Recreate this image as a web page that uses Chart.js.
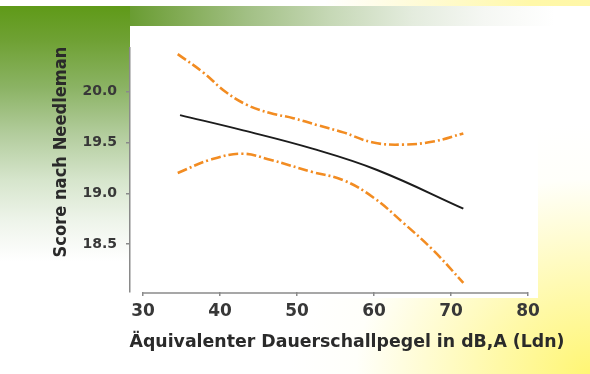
<!DOCTYPE html>
<html>
<head>
<meta charset="utf-8">
<script src="https://cdn.jsdelivr.net/npm/chart.js@4/dist/chart.umd.min.js"></script>
<style>
  html, body { margin: 0; padding: 0; background: #ffffff; }
  #wrap { position: relative; width: 590px; height: 374px; overflow: hidden; background: #ffffff; }
  .layer { position: absolute; }
  #yellowBR { left: 0; top: 0; width: 590px; height: 374px;
    background: radial-gradient(ellipse 300px 250px at 100% 100%, #fff674 0%, #fff9a6 30%, #fffcd2 55%, rgba(255,255,245,0.5) 78%, rgba(255,255,255,0) 100%); }
  #yellowTop { left: 0; top: 0; width: 590px; height: 7px;
    background: linear-gradient(to right, #ffffff 0%, #ffffff 55%, #fffbd4 72%, #fff8a8 90%, #fff7a8 100%); }
  #greenBand { left: 0; top: 6px; width: 590px; height: 20px;
    background: linear-gradient(to right, #5f9818 0%, #63992a 20%, #80aa52 30%, #a2c085 42%, #c6d8b6 56%, #e4ecde 70%, #f5f7f3 82%, #ffffff 94%); }
  #greenCol { left: 0; top: 6px; width: 130px; height: 290px;
    background: linear-gradient(to bottom, #5f9a18 0%, #6fa134 12%, #8bb364 28%, #b2cc9c 44%, #d6e5cc 60%, #eef4ea 74%, #ffffff 88%); }
  #panel { left: 130px; top: 26px; width: 408px; height: 272px; background: #ffffff; }
  #c { position: absolute; left: 0; top: 0; }
</style>
</head>
<body>
<div id="wrap">
  <div class="layer" id="yellowBR"></div>
  <div class="layer" id="yellowTop"></div>
  <div class="layer" id="greenBand"></div>
  <div class="layer" id="greenCol"></div>
  <div class="layer" id="panel"></div>
  <canvas id="c" width="590" height="374"></canvas>
</div>
<script>
// ---- Data ----
const xTicks = [30, 40, 50, 60, 70, 80];
const yTicks = [18.5, 19.0, 19.5, 20.0];

const xMean  = [34.8, 43.0, 52.0, 60.4, 71.6];
const yMean  = [19.77, 19.62, 19.44, 19.23, 18.85];

const xUpper = [34.5, 37.8, 40.7, 43.5, 46.5, 49.5, 52.7, 56.0, 59.9, 63.8, 67.7, 71.6];
const yUpper = [20.37, 20.19, 20.00, 19.87, 19.79, 19.74, 19.67, 19.60, 19.50, 19.48, 19.51, 19.59];

const xLower = [34.5, 38.7, 42.9, 46.5, 52.0, 56.0, 59.9, 63.8, 67.7, 71.6];
const yLower = [19.20, 19.33, 19.39, 19.33, 19.21, 19.13, 18.96, 18.71, 18.44, 18.12];

const xTitle = 'Äquivalenter Dauerschallpegel in dB,A (Ldn)';
const yTitle = 'Score nach Needleman';

const pts = (xs, ys) => xs.map((x, i) => ({ x: x, y: ys[i] }));

const ORANGE = '#f28c22';
const AXIS = '#8a8a8a';
const TEXT = '#2a2a2a';
const TICKTEXT = '#383838';

const decor = {
  id: 'decor',
  afterDraw(chart) {
    const ctx = chart.ctx;
    const xs = chart.scales.x;
    ctx.save();
    // x axis line only over the tick range
    ctx.strokeStyle = AXIS;
    ctx.lineWidth = 1.5;
    ctx.beginPath();
    const yb = chart.chartArea.bottom + 1;
    ctx.moveTo(xs.getPixelForValue(xTicks[0]), yb);
    ctx.lineTo(xs.getPixelForValue(xTicks[xTicks.length - 1]), yb);
    ctx.stroke();
    // axis titles
    ctx.fillStyle = TEXT;
    ctx.font = 'bold 18px "DejaVu Sans"';
    ctx.textAlign = 'center';
    ctx.textBaseline = 'middle';
    ctx.fillText(xTitle, 347, 342, 435);
    ctx.translate(62, 152);
    ctx.rotate(-Math.PI / 2);
    ctx.font = 'bold 17px "DejaVu Sans"';
    ctx.fillText(yTitle, 0, 0, 211);
    ctx.restore();
  }
};

new Chart(document.getElementById('c'), {
  type: 'line',
  data: {
    datasets: [
      { data: pts(xUpper, yUpper), borderColor: ORANGE, borderWidth: 2.6, borderDash: [10, 3, 2, 3], pointRadius: 0, tension: 0.4, fill: false },
      { data: pts(xLower, yLower), borderColor: ORANGE, borderWidth: 2.6, borderDash: [10, 3, 2, 3], pointRadius: 0, tension: 0.4, fill: false },
      { data: pts(xMean, yMean), borderColor: '#1c1c1c', borderWidth: 2, pointRadius: 0, tension: 0.4, fill: false }
    ]
  },
  options: {
    responsive: false,
    animation: false,
    layout: { padding: { left: 0, top: 48, right: 62, bottom: 0 } },
    plugins: { legend: { display: false }, tooltip: { enabled: false } },
    scales: {
      x: {
        type: 'linear',
        min: 28.3,
        max: 80,
        afterBuildTicks: s => { s.ticks = xTicks.map(v => ({ value: v })); },
        afterFit: s => { s.height = 82; },
        border: { display: false },
        grid: { drawOnChartArea: false, drawTicks: true, tickLength: 4, color: AXIS, lineWidth: 1.5 },
        ticks: { color: TICKTEXT, font: { family: 'DejaVu Sans', size: 17, weight: 'bold' }, padding: 5, maxRotation: 0, autoSkip: false }
      },
      y: {
        type: 'linear',
        min: 18.03,
        max: 20.43,
        afterBuildTicks: s => { s.ticks = yTicks.map(v => ({ value: v })); },
        afterFit: s => { s.width = 130; },
        border: { display: true, color: AXIS, width: 1.5 },
        grid: { drawOnChartArea: false, drawTicks: true, tickLength: 4, color: AXIS, lineWidth: 1.5 },
        ticks: { color: TICKTEXT, font: { family: 'DejaVu Sans', size: 14, weight: 'bold' }, padding: 9,
                 callback: v => Number(v).toFixed(1) }
      }
    }
  },
  plugins: [decor]
});
</script>
</body>
</html>
